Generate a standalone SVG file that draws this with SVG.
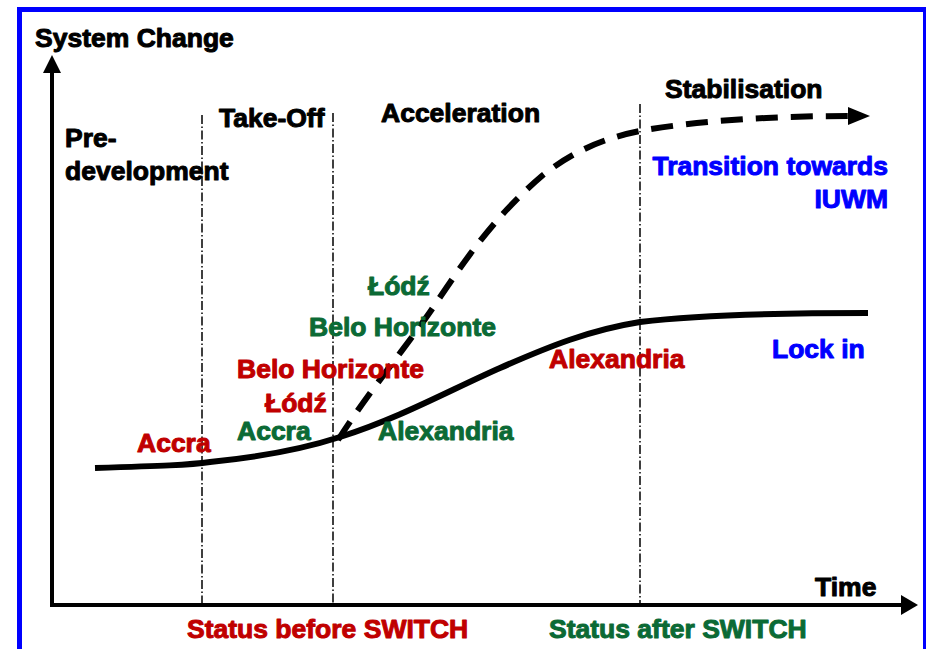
<svg xmlns="http://www.w3.org/2000/svg" width="926" height="649" viewBox="0 0 926 649">
  <style>
    text { font-family: "Liberation Sans", Arial, sans-serif; font-weight: bold; font-size: 26.5px; stroke-width: 1; stroke-linejoin: round; }
    .k { fill: #000; stroke: #000; }
    .r { fill: #c00000; stroke: #c00000; }
    .g { fill: #0b6a35; stroke: #0b6a35; }
    .b { fill: #0000ff; stroke: #0000ff; }
    .phase { fill: none; stroke: #000; stroke-width: 1.5; stroke-dasharray: 9 2.5 1.5 2.5; }
    .axis { fill: none; stroke: #000; stroke-width: 4; }
  </style>
  <rect x="0" y="0" width="926" height="649" fill="#fff"/>
  <rect id="frame" x="19.5" y="9.5" width="906" height="700" fill="none" stroke="#0000ff" stroke-width="5"/>

  <g id="axes">
    <line class="axis" x1="52" y1="607" x2="52" y2="70"/>
    <polygon points="52,55 43,73 61,73" fill="#000"/>
    <line class="axis" x1="50" y1="605" x2="903" y2="605"/>
    <polygon points="918,605 901,595 901,615" fill="#000"/>
  </g>

  <g id="phase-lines">
    <line class="phase" x1="202" y1="115" x2="202" y2="603"/>
    <line class="phase" x1="333" y1="113" x2="333" y2="603"/>
    <line class="phase" x1="640" y1="104" x2="640" y2="603"/>
  </g>

  <g id="connectors">
    <path id="lock-in-curve" d="M95,468 C160,466 190,465 210,462 C260,457 300,450 340,437 C400,418 450,390 500,368 C550,346 590,330 640,322 C700,315 800,313 868,313" fill="none" stroke="#000" stroke-width="6"/>
    <path id="transition-curve" d="M338,440 C370,390 400,355 430,312 C460,268 490,220 543,175 C575,150 605,138 640,131 C700,120 780,116 848,116" fill="none" stroke="#000" stroke-width="6" stroke-dasharray="22 13"/>
    <polygon points="870,116 848,107 848,125" fill="#000"/>
  </g>

  <g id="axis-labels">
    <text class="k" x="35" y="47">System Change</text>
    <text class="k" x="815" y="596">Time</text>
  </g>

  <g id="phase-labels">
    <text class="k" x="65" y="147">Pre-</text>
    <text class="k" x="65" y="180">development</text>
    <text class="k" x="219" y="127">Take-Off</text>
    <text class="k" x="381" y="122">Acceleration</text>
    <text class="k" x="665" y="98">Stabilisation</text>
  </g>

  <g id="outcome-labels">
    <text class="b" x="888" y="175" text-anchor="end">Transition towards</text>
    <text class="b" x="888" y="208" text-anchor="end">IUWM</text>
    <text class="b" x="772" y="358">Lock in</text>
  </g>

  <g id="city-before">
    <text class="r" x="137" y="452">Accra</text>
    <text class="r" x="237" y="378">Belo Horizonte</text>
    <text class="r" x="265" y="412">Łódź</text>
    <text class="r" x="549" y="368">Alexandria</text>
  </g>

  <g id="city-after">
    <text class="g" x="368" y="295">Łódź</text>
    <text class="g" x="309" y="336">Belo Horizonte</text>
    <text class="g" x="237" y="440">Accra</text>
    <text class="g" x="378" y="440">Alexandria</text>
  </g>

  <g id="status-labels">
    <text class="r" x="187" y="638">Status before SWITCH</text>
    <text class="g" x="549" y="638">Status after SWITCH</text>
  </g>
</svg>
